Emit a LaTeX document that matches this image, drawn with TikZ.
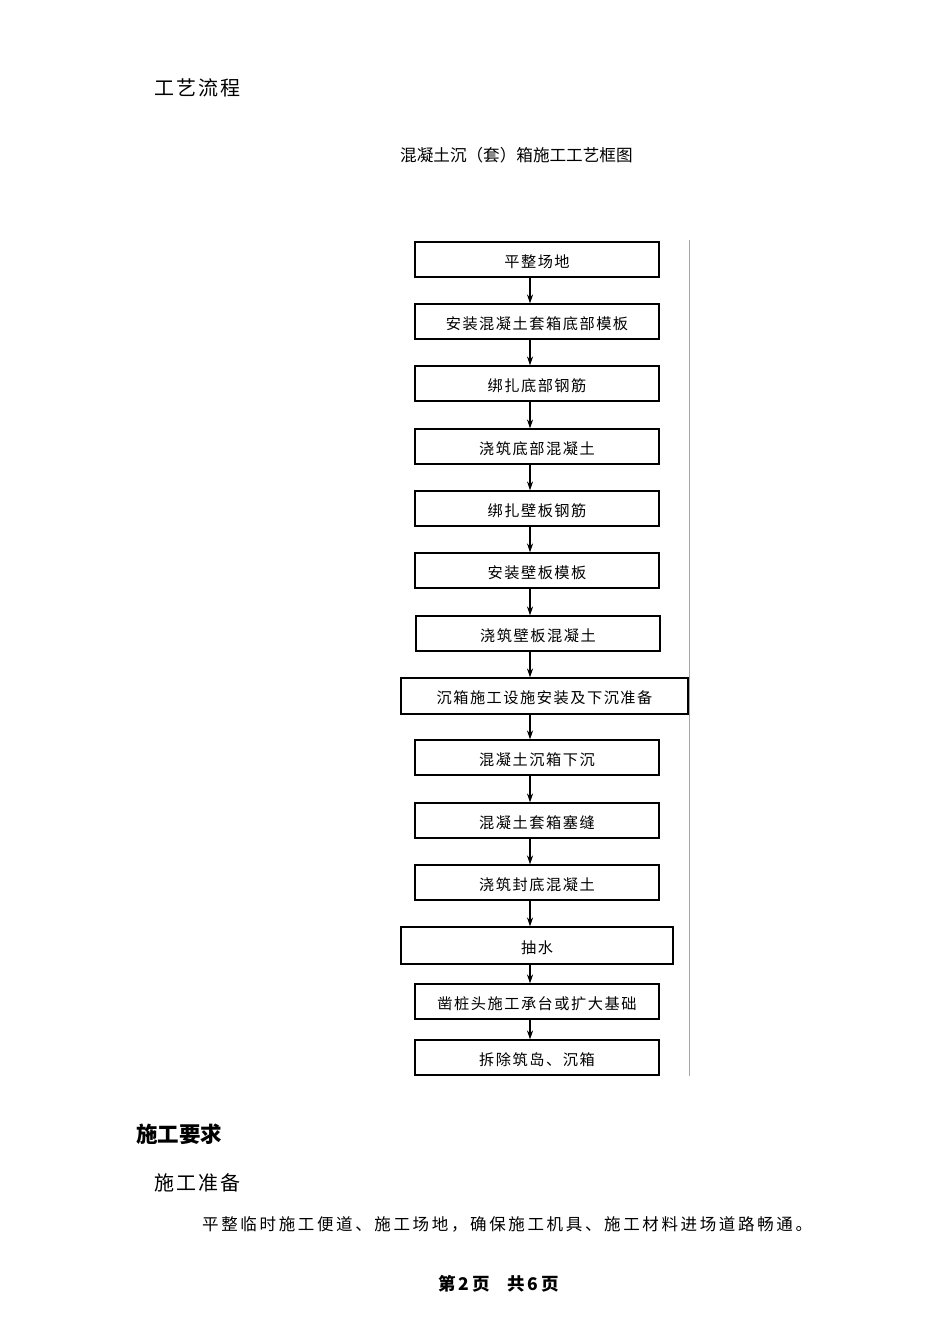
\documentclass[tikz,border=0pt]{standalone}
\usepackage{fontspec}
\usetikzlibrary{arrows.meta}
\setmainfont{Noto Sans CJK SC}
\newfontfamily\cjk{Noto Sans CJK SC}
\newfontfamily\cjkls[LetterSpace=10]{Noto Sans CJK SC}
\newfontfamily\cjkpara[LetterSpace=16]{Noto Sans CJK SC}
\begin{document}
\begin{tikzpicture}[x=1pt,y=-1pt,
  stepbox/.style={draw=black,line width=1.1pt,minimum height=35pt,inner sep=0pt,
    text height=15pt,text depth=0pt,
    font=\fontsize{15.2}{17}\cjkls},
  flowarrow/.style={line width=1.2pt,-{Stealth[length=9pt,width=6pt]}},
  headtext/.style={anchor=west,inner sep=0pt}]
\useasboundingbox (0,0) rectangle (950,1344);
\fill[white] (0,0) rectangle (950,1344);

\node[headtext,font=\fontsize{20}{23}\cjkls] (h1) at (154,88) {工艺流程};
\node[headtext,font=\fontsize{16.6}{19}\cjk] (title) at (400,155) {混凝土沉（套）箱施工工艺框图};

\node[stepbox,minimum width=244pt] (b1) at (537,259.5) {平整场地};
\node[stepbox,minimum width=244pt] (b2) at (537,321.5) {安装混凝土套箱底部模板};
\node[stepbox,minimum width=244pt] (b3) at (537,383.5) {绑扎底部钢筋};
\node[stepbox,minimum width=244pt] (b4) at (537,446.5) {浇筑底部混凝土};
\node[stepbox,minimum width=244pt] (b5) at (537,508.5) {绑扎壁板钢筋};
\node[stepbox,minimum width=244pt] (b6) at (537,570.5) {安装壁板模板};
\node[stepbox,minimum width=244pt] (b7) at (538,633.5) {浇筑壁板混凝土};
\node[stepbox,minimum width=287pt,minimum height=36pt] (b8) at (544.5,696) {沉箱施工设施安装及下沉准备};
\node[stepbox,minimum width=244pt] (b9) at (537,757.5) {混凝土沉箱下沉};
\node[stepbox,minimum width=244pt] (b10) at (537,820.5) {混凝土套箱塞缝};
\node[stepbox,minimum width=244pt] (b11) at (537,882.5) {浇筑封底混凝土};
\node[stepbox,minimum width=272pt,minimum height=37pt] (b12) at (537,945.5) {抽水};
\node[stepbox,minimum width=244pt] (b13) at (537,1001.5) {凿桩头施工承台或扩大基础};
\node[stepbox,minimum width=244pt] (b14) at (537,1057.5) {拆除筑岛、沉箱};

\coordinate (gtop) at (689,240);
\coordinate (gbot) at (689,1076);
\draw[line width=1pt,black!35] (gtop) -- (gbot);

\foreach \a/\b in {b1/b2,b2/b3,b3/b4,b4/b5,b5/b6,b6/b7,b7/b8,b8/b9,b9/b10,b10/b11,b11/b12,b12/b13,b13/b14}{
  \draw[flowarrow] (530,0 |- \a.south) -- (530,0 |- \b.north);
}

\node[headtext,font=\fontsize{21.5}{24}\cjk\bfseries] (h2) at (136,1134) {施工要求};
\node[headtext,font=\fontsize{20}{23}\cjkls] (h3) at (154,1183) {施工准备};
\node[headtext,font=\fontsize{16.5}{20}\cjkpara] (p1) at (202,1224) {平整临时施工便道、施工场地，确保施工机具、施工材料进场道路畅通。};
\node[headtext,font=\fontsize{17.5}{20}\cjk\bfseries] (foot) at (438,1284) {第\,2\,页\quad 共\,6\,页};
\end{tikzpicture}
\end{document}
